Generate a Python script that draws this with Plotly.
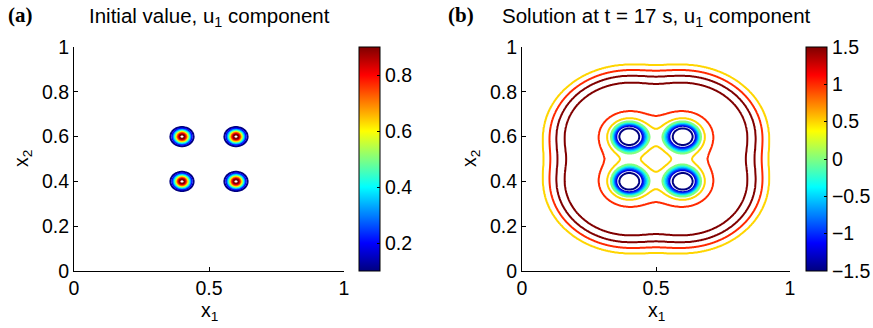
import numpy as np
import plotly.graph_objects as go

W, H = 873, 328

# ---------------- data ----------------
# centres of the four initial bumps (both panels)
centers_x = [0.4, 0.6, 0.4, 0.6]
centers_y = [0.4, 0.4, 0.6, 0.6]

# (a) initial value: gaussian bumps
init_amp = 1.0
init_sigma = 0.02
init_levels = [0.1, 0.2, 0.3, 0.4, 0.5, 0.6, 0.7, 0.8, 0.9]
init_crange = [0.1, 0.9]
init_cticks = [0.2, 0.4, 0.6, 0.8]

# (b) solution at t = 17 s: radial profile vs. (soft) distance to bump centres
sol_soft_in = 0.035
sol_soft_out = 0.021
sol_profile_r = [0.0, 0.030, 0.036, 0.048, 0.052, 0.056, 0.060, 0.0635, 0.067,
                 0.081, 0.112, 0.17, 0.240, 0.2555, 0.271, 0.296, 0.320, 0.37, 1.5]
sol_profile_u = [-2.2, -1.7, -1.5, -1.25, -1.0, -0.75, -0.5, -0.25, 0.0,
                 0.5, 1.0, 1.3, 1.5, 1.6, 1.5, 1.0, 0.5, 0.3, 0.2]
sol_levels = [-1.5, -1.25, -1.0, -0.75, -0.5, -0.25, 0.0, 0.5, 1.0, 1.5]
sol_crange = [-1.5, 1.5]
sol_cticks = [-1.5, -1, -0.5, 0, 0.5, 1, 1.5]

x_ticks = [0, 0.5, 1]
x_ticktext = ["0", "0.5", "1"]
y_ticks = [0, 0.2, 0.4, 0.6, 0.8, 1]
y_ticktext = ["0", "0.2", "0.4", "0.6", "0.8", "1"]

title_a = "Initial value, u<sub>1</sub> component"
title_b = "Solution at t = 17 s, u<sub>1</sub> component"

# ---------------- fields ----------------
n = 401
g = np.linspace(0, 1, n)
X, Y = np.meshgrid(g, g)
cx = np.array(centers_x)[:, None, None]
cy = np.array(centers_y)[:, None, None]
D = np.sqrt((X - cx) ** 2 + (Y - cy) ** 2)

U0 = (init_amp * np.exp(-D ** 2 / (2 * init_sigma ** 2))).sum(axis=0)

dmin = D.min(axis=0)
wgt = 1.0 / (1.0 + (dmin / 0.2) ** 8)
s = sol_soft_out + (sol_soft_in - sol_soft_out) * wgt
rho = dmin - s * np.log(np.exp(-(D - dmin) / s).sum(axis=0))
U17 = np.interp(rho, sol_profile_r, sol_profile_u)


def jet(t):
    t = min(max(t, 0.0), 1.0)
    r = np.clip(1.5 - abs(4 * t - 3), 0, 1)
    gg = np.clip(1.5 - abs(4 * t - 2), 0, 1)
    b = np.clip(1.5 - abs(4 * t - 1), 0, 1)
    return "rgb(%d,%d,%d)" % (round(r * 255), round(gg * 255), round(b * 255))


jet_cs = [[k / 64, jet(k / 64)] for k in range(65)]

FONT = "Liberation Sans"
TICKSIZE = 19.5

fig = go.Figure()

# plot geometry (pixels)
PA = (74, 344)
PB = (522, 790)
PY = (47, 271)
dom_y = [1 - PY[1] / H, 1 - PY[0] / H]


def add_panel(Z, levels, crange, cticks, xa, ya, cbx):
    for L in levels:
        t = (L - crange[0]) / (crange[1] - crange[0])
        fig.add_trace(go.Contour(
            x=g, y=g, z=Z, xaxis=xa, yaxis=ya,
            autocontour=False,
            contours=dict(start=L, end=L, size=1, coloring="none"),
            line=dict(color=jet(t), width=2),
            showscale=False, hoverinfo="skip", showlegend=False))
    fig.add_trace(go.Scatter(
        x=[None], y=[None], xaxis=xa, yaxis=ya, mode="markers",
        showlegend=False, hoverinfo="skip",
        marker=dict(color=[crange[0]], cmin=crange[0], cmax=crange[1],
                    colorscale=jet_cs, showscale=True,
                    colorbar=dict(
                        x=cbx / W, xanchor="left", xpad=0, ypad=0,
                        y=sum(dom_y) / 2, yanchor="middle",
                        len=PY[1] - PY[0], lenmode="pixels",
                        thickness=21, thicknessmode="pixels",
                        outlinewidth=1, outlinecolor="black",
                        tickvals=cticks, ticks="inside", ticklen=3,
                        tickcolor="black",
                        tickfont=dict(family=FONT, size=TICKSIZE, color="black")))))


add_panel(U0, init_levels, init_crange, init_cticks, "x", "y", 359)
add_panel(U17, sol_levels, sol_crange, sol_cticks, "x2", "y2", 806)

axcommon = dict(range=[0, 1], showline=True, linecolor="black", linewidth=1,
                ticks="inside", ticklen=4, tickcolor="black", showgrid=False,
                zeroline=False, mirror=False, automargin=False,
                tickfont=dict(family=FONT, size=TICKSIZE, color="black"))

fig.update_layout(
    width=W, height=H,
    margin=dict(l=0, r=0, t=0, b=0, autoexpand=False),
    paper_bgcolor="white", plot_bgcolor="white",
    xaxis=dict(domain=[PA[0] / W, PA[1] / W], anchor="y",
               tickvals=x_ticks, ticktext=x_ticktext, **axcommon),
    yaxis=dict(domain=dom_y, anchor="x",
               tickvals=y_ticks, ticktext=y_ticktext, **axcommon),
    xaxis2=dict(domain=[PB[0] / W, PB[1] / W], anchor="y2",
                tickvals=x_ticks, ticktext=x_ticktext, **axcommon),
    yaxis2=dict(domain=dom_y, anchor="x2",
                tickvals=y_ticks, ticktext=y_ticktext, **axcommon),
)

ann = []


def A(text, x, y, size=20.5, family=FONT, angle=0):
    ann.append(dict(text=text, x=x / W, y=1 - y / H, xref="paper", yref="paper",
                    showarrow=False, xanchor="center", yanchor="middle",
                    textangle=angle,
                    font=dict(family=family, size=size, color="black")))


A("<b>(a)</b>", 20, 15, size=21, family="Liberation Serif")
A(title_a, (PA[0] + PA[1]) / 2, 17)
A("<b>(b)</b>", 461, 15, size=21, family="Liberation Serif")
A(title_b, (PB[0] + PB[1]) / 2, 17)
A("x<sub>1</sub>", (PA[0] + PA[1]) / 2, 311, size=TICKSIZE)
A("x<sub>1</sub>", (PB[0] + PB[1]) / 2, 311, size=TICKSIZE)
A("x<sub>2</sub>", 22, (PY[0] + PY[1]) / 2, size=TICKSIZE, angle=-90)
A("x<sub>2</sub>", 470, (PY[0] + PY[1]) / 2, size=TICKSIZE, angle=-90)
fig.update_layout(annotations=ann)

fig.write_html(
    "out.html",
    config={"displayModeBar": False, "staticPlot": True},
    post_script="document.body.style.margin='0px';"
                "document.body.style.overflow='hidden';")
